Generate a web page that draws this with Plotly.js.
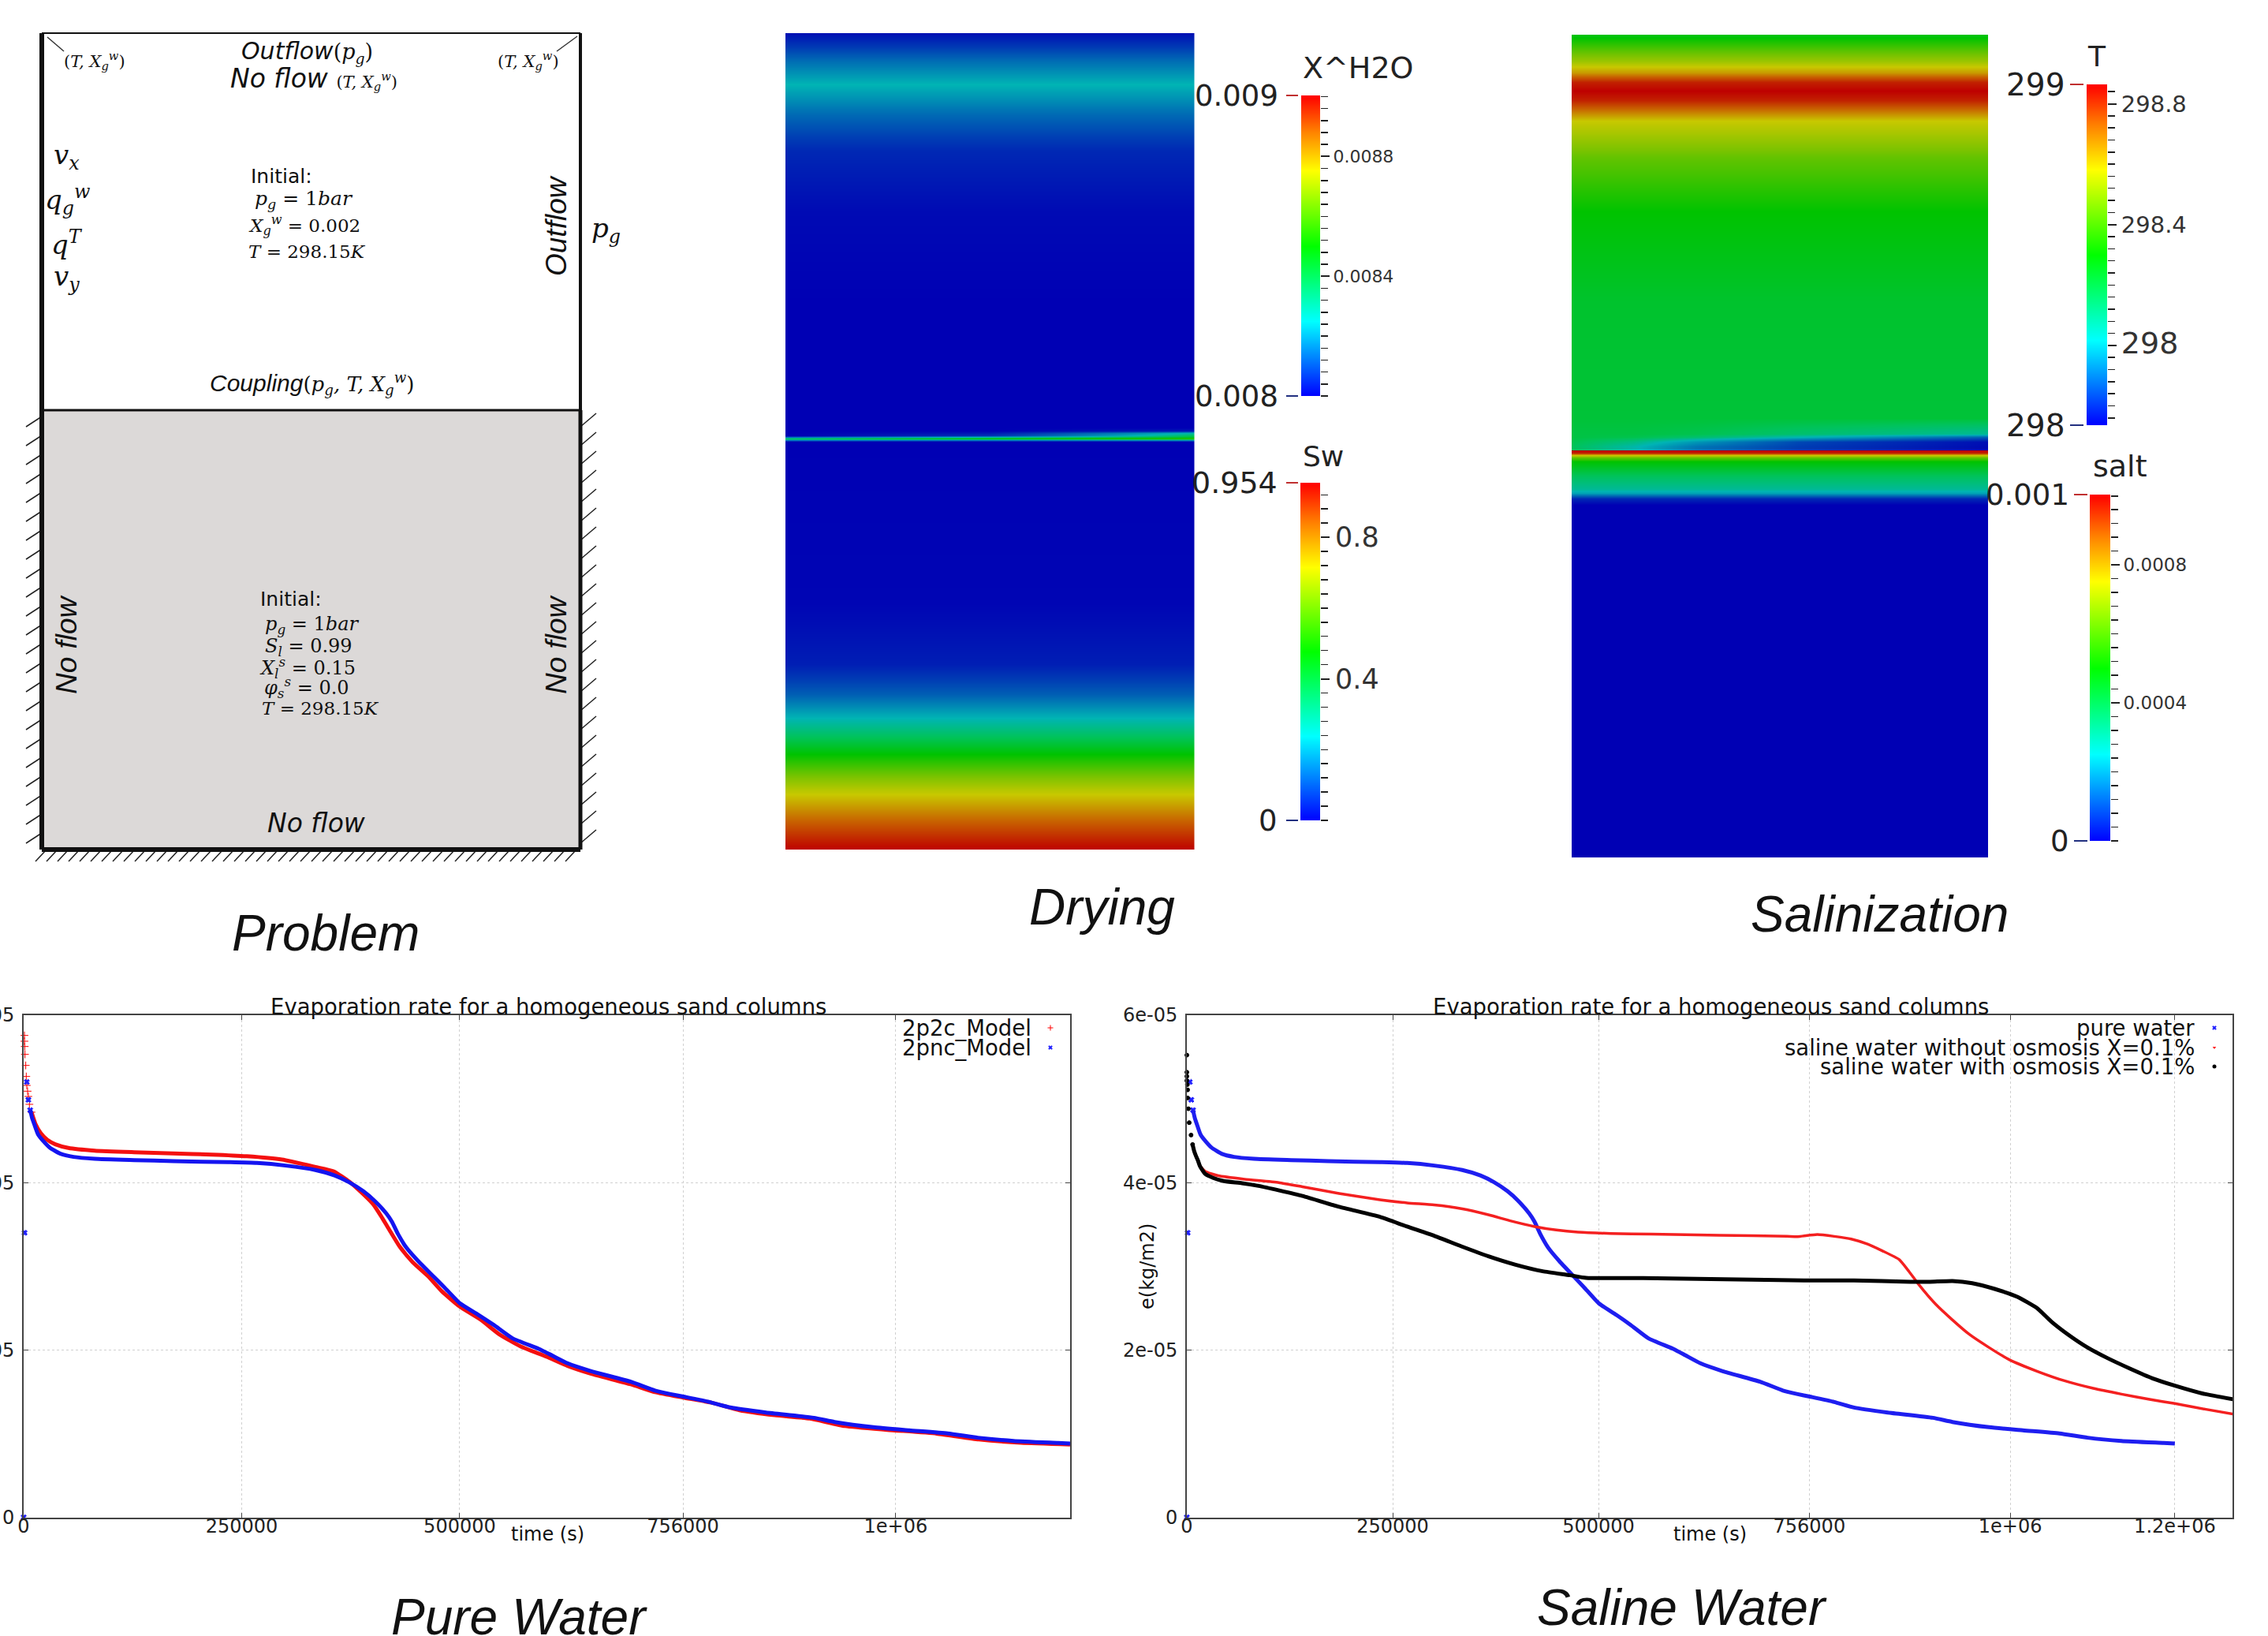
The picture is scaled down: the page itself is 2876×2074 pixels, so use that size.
<!DOCTYPE html>
<html>
<head>
<meta charset="utf-8">
<script src="https://cdn.plot.ly/plotly-3.0.1.min.js"></script>
<style>html,body{margin:0;padding:0;background:#fff}#plot{width:2876px;height:2074px}</style>
</head>
<body>
<div id="plot"></div>
<script>
// ---------- Evaporation curves (y in units of 1e-5) ----------
const blueEarlyT = [0,1000,3600,5400,7500];
const blueEarlyY = [0,3.4,5.202,4.989,4.866];
const blueT = [7500,9650,12100,16600,22600,30100,42200,57300,81400,126600,171800,234500,267500,300400,334500,356500,373000,389400,402600,415800,422400,429000,438800,452000,467000,482200,500300,521400,539400,560600,590700,605800,623800,650900,696200,724000,741900,759000,786300,810300,851300,906000,929900,974400,1015400,1059900,1094100,1135100,1186400,1200000];
const blueY = [4.866,4.772,4.70,4.574,4.495,4.417,4.344,4.307,4.285,4.269,4.256,4.244,4.234,4.203,4.15,4.085,4.005,3.897,3.78,3.631,3.53,3.39,3.223,3.066,2.908,2.751,2.557,2.42,2.296,2.139,2.013,1.934,1.84,1.746,1.62,1.515,1.472,1.437,1.378,1.312,1.252,1.189,1.139,1.076,1.039,1.001,0.951,0.913,0.888,0.881];

const redEarlyT = [900,900,1200,1500,2400,3000,3600,4500,5400,6600,9040];
const redEarlyY = [5.758,5.689,5.626,5.532,5.40,5.268,5.161,5.092,5.029,4.935,4.841];
const redT = [9040,13600,19600,27100,36200,51200,81400,126600,171800,215500,255900,296200,334500,355600,373700,388800,400800,409800,418900,431000,446000,464100,479200,500300,524400,545500,569600,599700,623800,650900,696200,724000,756300,788500,820800,861200,901500,941900,990300,1046800,1095200,1143700,1200000];
const redY = [4.841,4.70,4.59,4.51,4.458,4.414,4.382,4.363,4.348,4.335,4.315,4.275,4.187,4.134,4.008,3.867,3.741,3.60,3.443,3.238,3.05,2.877,2.704,2.516,2.359,2.186,2.044,1.919,1.809,1.715,1.589,1.495,1.43,1.37,1.28,1.22,1.18,1.09,1.045,1.0,0.93,0.89,0.87];

const salineRedT = [15950,22300,38300,70200,111700,140400,184900,234500,267500,300400,333400,366300,392700,422400,448700,475100,514700,564100,646500,728900,741900,765800,786300,806900,827400,844500,865000,877000,888900,909400,929900,950500,974400,998300,1032500,1066700,1100900,1135100,1169300,1200000,1237700,1271200];
const salineRedY = [4.2,4.134,4.081,4.04,4.0,3.95,3.87,3.794,3.757,3.732,3.688,3.615,3.543,3.474,3.433,3.408,3.392,3.383,3.37,3.358,3.354,3.379,3.357,3.326,3.263,3.185,3.081,2.939,2.782,2.547,2.358,2.185,2.028,1.887,1.746,1.629,1.541,1.472,1.409,1.359,1.29,1.233];

const blackEarlyT = [0,0,0,0,640,960,960,1900,2870,5100,7000];
const blackEarlyY = [5.523,5.319,5.27,5.218,5.171,5.108,5.011,4.882,4.716,4.568,4.455];
const blackT = [7000,8900,11170,13400,15950,22300,31900,44700,67000,87100,140400,184900,234500,267500,300400,333400,366300,399300,432300,465200,485000,554200,620100,686000,751300,810300,878700,902600,930000,953900,981200,1008600,1032500,1049600,1070100,1094100,1118000,1145400,1172700,1200000,1234200,1271200];
const blackY = [4.455,4.376,4.316,4.266,4.197,4.103,4.056,4.018,3.993,3.96,3.84,3.71,3.59,3.474,3.364,3.238,3.119,3.018,2.94,2.893,2.861,2.858,2.849,2.839,2.83,2.83,2.814,2.814,2.823,2.798,2.729,2.635,2.5,2.342,2.185,2.028,1.903,1.777,1.661,1.573,1.478,1.409];

const e5 = a => a.map(v => v*1e-5);

const pureTicksX = [0,250000,500000,756000,1000000];
const pureTickTextX = ['0','250000','500000','756000','1e+06'];
const salineTicksX = [0,250000,500000,756000,1000000,1200000];
const salineTickTextX = ['0','250000','500000','756000','1e+06','1.2e+06'];
const ticksY = [0,2e-5,4e-5,6e-5];
const tickTextY = ['0','2e-05','4e-05','6e-05'];

// ---------- Field profiles (position down the column, normalised colour level) ----------
const dryDepth = [0,34,65,103,149,226,341,500,504,507,510,512,514,516,518,723,800,838,868,914,960,998,1035];
const dryLeft  = [.03,.2,.33,.2,.08,.02,0,0,0,0,0,.2,.45,.2,0,.01,.06,.18,.33,.5,.7,.85,1];
const dryMid   = [.03,.2,.33,.2,.08,.02,0,0,0,.05,.1,.35,.5,.2,0,.01,.06,.18,.33,.5,.7,.85,1];
const dryRight = [.03,.2,.33,.2,.08,.02,0,0,.05,.35,.42,.46,.55,.25,0,.01,.06,.18,.33,.5,.7,.85,1];
const dryCols = [0,0.5,1];

const salDepth = [0,33,48,60,71,83,94,109,155,224,339,486,506,510,516,522,526,527,530,533,536,541,559,576,581,588,596,1043];
const salA = [.48,.66,.78,.95,1,.95,.85,.72,.60,.5,.46,.45,.44,.44,.43,.42,.42,1,.95,.72,.6,.5,.42,.36,.3,.08,0,0];
const salB = [.48,.66,.78,.95,1,.95,.85,.72,.60,.5,.46,.45,.44,.43,.38,.34,.34,1,.95,.72,.6,.5,.42,.36,.3,.08,0,0];
const salC = [.48,.66,.78,.95,1,.95,.85,.72,.60,.5,.46,.45,.43,.40,.28,.22,.22,1,.95,.72,.6,.5,.42,.36,.3,.08,0,0];
const salD = [.48,.66,.78,.95,1,.95,.85,.72,.60,.5,.46,.45,.40,.33,.14,.12,.12,1,.95,.72,.6,.5,.42,.36,.3,.08,0,0];
const salE = [.48,.66,.78,.95,1,.95,.85,.72,.60,.5,.46,.45,.36,.18,.03,.02,.02,1,.95,.72,.6,.5,.42,.36,.3,.08,0,0];
const salCols = [0,0.15,0.3,0.55,1];

const fieldScale = [[0,'rgb(0,0,180)'],[.12,'rgb(0,60,180)'],[.33,'rgb(0,180,180)'],[.42,'rgb(0,195,90)'],[.5,'rgb(0,195,0)'],[.62,'rgb(120,195,0)'],[.72,'rgb(200,200,0)'],[.85,'rgb(200,100,0)'],[1,'rgb(190,0,0)']];
const barScale = [[0,'rgb(0,0,255)'],[.25,'rgb(0,255,255)'],[.5,'rgb(0,255,0)'],[.75,'rgb(255,255,0)'],[.88,'rgb(255,130,0)'],[1,'rgb(255,0,0)']];
const barLevels = [0,.25,.5,.75,.88,1];

// colour bars: value ranges and labels
const barXRange = [0.008,0.009004], barXTicks=[0.0084,0.0088], barXText=['0.0084','0.0088'];
const barSRange = [0,0.954], barSTicks=[0.4,0.8], barSText=['0.4','0.8'];
const barTRange = [297.736,298.864], barTTicks=[298,298.4,298.8], barTText=['<span style="font-size:38px">298</span>','298.4','298.8'];
const barCRange = [0,0.001004], barCTicks=[0.0004,0.0008], barCText=['0.0004','0.0008'];

// ---------- Page geometry ----------
const W=2876,H=2074;
const dom=(l,r,t,b)=>({x:[l/W,r/W],y:[1-b/H,1-t/H]});
const sans='"DejaVu Sans", sans-serif', serif='"DejaVu Serif", serif', hel='"Liberation Sans", sans-serif';
const traces=[];
const layout={width:W,height:H,margin:{l:0,r:0,t:0,b:0},paper_bgcolor:'#fff',plot_bgcolor:'rgba(0,0,0,0)',showlegend:false,annotations:[],shapes:[],font:{family:sans,color:'#222'}};

function linePlot(n,rect,range,tv,tt){
  const d=dom(...rect);
  const common={showline:true,mirror:'allticks',linecolor:'#444',linewidth:2,ticks:'inside',ticklen:6,tickcolor:'#444',showgrid:true,gridcolor:'#d0d0d0',griddash:'dot',gridwidth:1,zeroline:false,tickfont:{family:sans,size:24,color:'#222'},automargin:false};
  layout['xaxis'+n]=Object.assign({},common,{domain:d.x,range:range,anchor:'y'+n,tickmode:'array',tickvals:tv,ticktext:tt,ticklabelstandoff:-11});
  layout['yaxis'+n]=Object.assign({},common,{domain:d.y,range:[0,6e-5],anchor:'x'+n,tickmode:'array',tickvals:ticksY,ticktext:tickTextY,ticklabelstandoff:5});
}
function addLine(n,x,y,color,w){traces.push({type:'scatter',mode:'lines',x:x,y:e5(y),xaxis:'x'+n,yaxis:'y'+n,line:{color:color,width:w,shape:'spline',smoothing:0.5},cliponaxis:true,hoverinfo:'skip'});}
function addDots(n,x,y,color,sym,s){traces.push({type:'scatter',mode:'markers',x:x,y:e5(y),xaxis:'x'+n,yaxis:'y'+n,marker:{color:color,size:s,symbol:sym,line:{width:1,color:color}},cliponaxis:false,hoverinfo:'skip'});}

linePlot('',[30,1357,1287,1923.5],[0,1.2e6],pureTicksX,pureTickTextX);
addDots('',redEarlyT,redEarlyY,'#ff0000','cross-thin',7);
addLine('',redT,redY,'#f41010',5);
addDots('',blueEarlyT,blueEarlyY,'#2020ff','x',6);
addLine('',blueT,blueY,'#1414f0',5);

linePlot('2',[1505,2831,1287,1923.5],[0,1.27e6],salineTicksX,salineTickTextX);
addDots('2',blueEarlyT,blueEarlyY,'#2020ff','x',6);
addLine('2',blueT,blueY,'#1e1ef0',5);
addLine('2',salineRedT,salineRedY,'#f42020',3.5);
addDots('2',blackEarlyT,blackEarlyY,'#000000','circle',5);
addLine('2',blackT,blackY,'#000000',5);

function field(n,rect,depth,cols,columns){
  const d=dom(...rect);
  traces.push({type:'heatmap',x:cols,y:depth,z:depth.map((_,i)=>columns.map(c=>c[i])),zmin:0,zmax:1,zsmooth:'best',colorscale:fieldScale,showscale:false,xaxis:'x'+n,yaxis:'y'+n,hoverinfo:'skip'});
  layout['xaxis'+n]={domain:d.x,range:[0,1],visible:false,anchor:'y'+n};
  layout['yaxis'+n]={domain:d.y,range:[depth[depth.length-1],0],visible:false,anchor:'x'+n};
}
field('3',[996,1514.5,42,1077],dryDepth,dryCols,[dryLeft,dryMid,dryRight]);
field('4',[1993,2521,44,1087],salDepth,salCols,[salA,salB,salC,salD,salE]);

function colorBar(n,rect,rng,tv,tt,size,minorStep){
  const d=dom(...rect);
  const ys=barLevels.map(l=>rng[0]+l*(rng[1]-rng[0]));
  traces.push({type:'heatmap',x:[0,1],y:ys,z:barLevels.map(l=>[l,l]),zmin:0,zmax:1,zsmooth:'best',colorscale:barScale,showscale:false,xaxis:'x'+n,yaxis:'y'+n,hoverinfo:'skip'});
  layout['xaxis'+n]={domain:d.x,range:[0,1],visible:false,anchor:'y'+n};
  layout['yaxis'+n]={domain:d.y,range:rng,side:'right',anchor:'x'+n,showgrid:false,zeroline:false,showline:false,automargin:false,tickmode:'array',tickvals:tv,ticktext:tt,ticks:'outside',ticklen:11,tickwidth:2,tickcolor:'#222',tickfont:{family:sans,size:size,color:'#333'},
    minor:{ticks:'outside',ticklen:9,tickwidth:1.5,tickcolor:'#222',dtick:minorStep,tick0:0,showgrid:false}};
}
colorBar('5',[1650,1674,121,502],barXRange,barXTicks,barXText,22,0.00004);
colorBar('6',[1649,1674,612,1040],barSRange,barSTicks,barSText,35,0.04);
colorBar('7',[2646,2672,107,539],barTRange,barTTicks,barTText,29,0.04);
colorBar('8',[2650,2676,627,1066],barCRange,barCTicks,barCText,23,0.00004);

// overlay canvas for the schematic and page captions
layout.xaxis9={domain:[0,1],range:[0,W],visible:false,anchor:'y9'};
layout.yaxis9={domain:[0,1],range:[H,0],visible:false,anchor:'x9'};
const hatchX=[],hatchY=[];
const seg=(a,b,c,e)=>{hatchX.push(a,c,null);hatchY.push(b,e,null);};
for(let y=528;y<=1068;y+=24){seg(33,y+13,53,y);seg(736,y+13,756,y-4);}
for(let x=45;x<=720;x+=14){seg(x,1092,x+14,1077);}
traces.push({type:'scatter',mode:'lines',x:hatchX,y:hatchY,xaxis:'x9',yaxis:'y9',line:{color:'#222',width:1.5},hoverinfo:'skip',connectgaps:false});
traces.push({type:'scatter',mode:'markers',x:[1332],y:[1303],xaxis:'x9',yaxis:'y9',marker:{color:'#ff0000',size:5,symbol:'cross-thin',line:{width:1,color:'#ff0000'}},hoverinfo:'skip'});
traces.push({type:'scatter',mode:'markers',x:[1332,2808],y:[1328,1303],xaxis:'x9',yaxis:'y9',marker:{color:'#2020ff',size:5,symbol:'x'},hoverinfo:'skip'});
traces.push({type:'scatter',mode:'markers',x:[2808],y:[1328],xaxis:'x9',yaxis:'y9',marker:{color:'#ff2020',size:4,symbol:'triangle-down'},hoverinfo:'skip'});
traces.push({type:'scatter',mode:'markers',x:[2808],y:[1352],xaxis:'x9',yaxis:'y9',marker:{color:'#000',size:5,symbol:'circle'},hoverinfo:'skip'});

const rect=(x0,y0,x1,y1,fill,w)=>layout.shapes.push({type:'rect',xref:'x9',yref:'y9',x0,y0,x1,y1,fillcolor:fill,line:{width:w||0,color:'#111'},layer:'below'});
const ln=(x0,y0,x1,y1,w,c)=>layout.shapes.push({type:'line',xref:'x9',yref:'y9',x0,y0,x1,y1,line:{width:w,color:c||'#111'},layer:'above'});
rect(53,520,736,1077,'#dcd9d8',0);
ln(53,42,736,42,2);ln(53,42,53,1077,6);ln(736,42,736,520,4);ln(736,520,736,1077,5);ln(53,520,736,520,3);ln(53,1077,736,1077,6);
ln(60,47,81,65,1.5,'#333');ln(732,46,706,65,1.5,'#333');
[[1631,1646,121,'#c03030'],[1631,1646,502,'#223080'],[1631,1646,612,'#c03030'],[1631,1646,1040,'#223080'],[2625,2642,107,'#c03030'],[2625,2642,539,'#223080'],[2630,2647,627,'#c03030'],[2630,2647,1066,'#223080']].forEach(t=>ln(t[0],t[2],t[1],t[2],2,t[3]));

function note(x,y,text,size,o){o=o||{};layout.annotations.push({xref:'x9',yref:'y9',x,y,text,showarrow:false,xanchor:o.a||'center',yanchor:'middle',textangle:o.rot||0,font:{family:o.f||serif,size,color:o.c||'#111'},align:'center'});}
const small=t=>'<span style="font-family:\'DejaVu Serif\';font-size:21px">'+t+'</span>';
const TX='(<i>T, X<sub>g</sub><sup>w</sup></i>)';
note(120,77,TX,21);
note(670,77,TX,21);
note(389,66,'<i>Outflow</i><span style="font-family:\'DejaVu Serif\';font-size:27px">(<i>p<sub>g</sub></i>)</span>',30,{f:sans});
note(398,99,'<i>No flow</i> '+small(TX),33,{f:sans});
note(84,198,'<i>v<sub>x</sub></i>',34);
note(85,253,'<i>q<sub>g</sub><sup>w</sup></i>',34);
note(85,308,'<i>q<sup>T</sup></i>',34);
note(84,352,'<i>v<sub>y</sub></i>',34);
note(357,223,'Initial:',25,{f:sans});
note(385,253,'<i>p<sub>g</sub></i> = 1<i>bar</i>',25);
note(386,285,'<i>X<sub>g</sub><sup>w</sup></i> = 0.002',23);
note(389,319,'<i>T</i> = 298.15<i>K</i>',23);
note(705,286,'<i>Outflow</i>',37,{f:hel,rot:-90});
note(768,291,'<i>p<sub>g</sub></i>',34);
note(395,486,'<i>Coupling</i><span style="font-family:\'DejaVu Serif\';font-size:26px">(<i>p<sub>g</sub>, T, X<sub>g</sub><sup>w</sup></i>)</span>',30,{f:hel});
note(369,759,'Initial:',25,{f:sans});
note(395,792,'<i>p<sub>g</sub></i> = 1<i>bar</i>',24);
note(391,820,'<i>S<sub>l</sub></i> = 0.99',24);
note(390,846,'<i>X<sub>l</sub><sup>s</sup></i> = 0.15',24);
note(389,871,'<i>φ<sub>s</sub><sup>s</sup></i> = 0.0',24);
note(406,898,'<i>T</i> = 298.15<i>K</i>',23);
note(84,817,'<i>No flow</i>',37,{f:hel,rot:-90});
note(705,817,'<i>No flow</i>',37,{f:hel,rot:-90});
note(401,1043,'<i>No flow</i>',33,{f:sans});

// captions
note(413,1183,'<i>Problem</i>',64,{f:hel});
note(1397,1150,'<i>Drying</i>',64,{f:hel});
note(2383,1159,'<i>Salinization</i>',64,{f:hel});
note(658,2050,'<i>Pure Water</i>',64,{f:hel});
note(2133,2038,'<i>Saline Water</i>',64,{f:hel});

// colour-bar labels
note(1650,86,'X^H2O',38,{f:sans,a:'left',c:'#222'});
note(1623,121,'0.009',37,{f:sans,a:'right',c:'#222'});
note(1623,502,'0.008',37,{f:sans,a:'right',c:'#222'});
note(1650,578,'Sw',36,{f:sans,a:'left',c:'#222'});
note(1622,612,'0.954',38,{f:sans,a:'right',c:'#222'});
note(1622,1040,'0',37,{f:sans,a:'right',c:'#222'});
note(2659,71,'T',36,{f:sans,c:'#222'});
note(2620,107,'299',39,{f:sans,a:'right',c:'#222'});
note(2620,539,'298',39,{f:sans,a:'right',c:'#222'});
note(2652,591,'salt',38,{f:sans,a:'left',c:'#222'});
note(2626,627,'0.001',37,{f:sans,a:'right',c:'#222'});
note(2626,1066,'0',37,{f:sans,a:'right',c:'#222'});

// line-plot text
note(695,1276,'Evaporation rate for a homogeneous sand columns',27.5,{f:sans});
note(694,1945,'time (s)',24,{f:sans});
note(1310,1303,'2p2c_Model',27.5,{f:sans,a:'right'});
note(1310,1328,'2pnc_Model',27.5,{f:sans,a:'right'});
note(2169,1276,'Evaporation rate for a homogeneous sand columns',27.5,{f:sans});
note(2168,1945,'time (s)',24,{f:sans});
note(2785,1303,'pure water',27.5,{f:sans,a:'right'});
note(2785,1328,'saline water without osmosis X=0.1%',27.5,{f:sans,a:'right'});
note(2785,1352,'saline water with osmosis X=0.1%',27.5,{f:sans,a:'right'});
note(1455,1606,'e(kg/m2)',24,{f:sans,rot:-90});

Plotly.newPlot('plot',traces,layout,{staticPlot:true,displayModeBar:false});
</script>
</body>
</html>
